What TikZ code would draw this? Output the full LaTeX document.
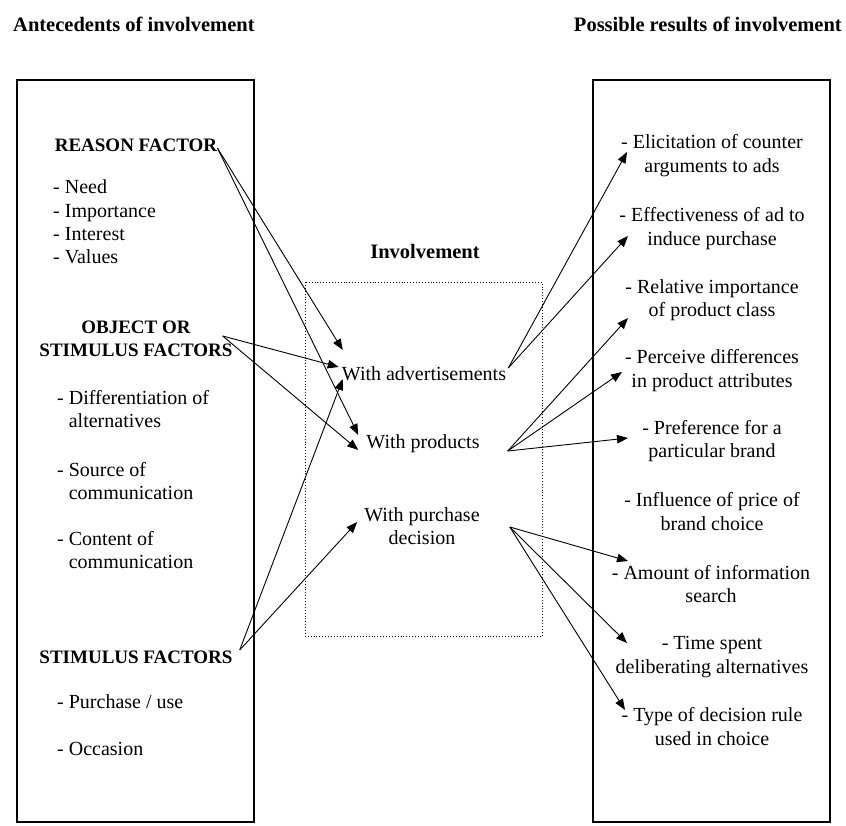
\documentclass[tikz,border=0pt]{standalone}
\usepackage{fontspec}
\setmainfont{Liberation Serif}
\usetikzlibrary{arrows.meta}
\begin{document}
\begin{tikzpicture}[x=1pt,y=-1pt,
  txt/.style={inner sep=0pt, font=\fontsize{20}{23.3}\selectfont},
  title/.style={inner sep=0pt, font=\fontsize{20.5}{24}\selectfont\bfseries},
  head/.style={inner sep=0pt, font=\fontsize{19}{23}\selectfont\bfseries, align=center},
  item/.style={txt, align=left, anchor=west},
  res/.style={txt, align=center},
  frame/.style={line width=1.6pt},
  arr/.style={line width=0.9pt, -{Triangle[length=11pt,width=8.5pt]}},
]
\useasboundingbox (0,0) rectangle (846,825);

% column titles
\node[title, anchor=west] (tleft) at (13,24) {Antecedents of involvement};
\node[title, anchor=east] (tright) at (842,24) {Possible results of involvement};
\node[title] (inv) at (425,251) {Involvement};

% frames
\draw[frame] (17,80) rectangle (254,822);
\draw[frame] (593,80) rectangle (830,822);
\draw[line width=0.9pt, dotted] (305,282) rectangle (542,636);

% antecedents
\node[head] (reason) at (136,145) {REASON FACTOR};
\node[item] (needs) at (53,222) {- Need\\- Importance\\- Interest\\- Values};
\node[head] (object) at (136,339) {OBJECT OR\\STIMULUS FACTORS};
\node[item] (diff) at (57,409) {- Differentiation of\\\hphantom{- }alternatives};
\node[item] (source) at (57,481) {- Source of\\\hphantom{- }communication};
\node[item] (content) at (57,550) {- Content of\\\hphantom{- }communication};
\node[head] (stim) at (136,657) {STIMULUS FACTORS};
\node[item] (use) at (57,702) {- Purchase / use};
\node[item] (occ) at (57,749) {- Occasion};

% involvement
\node[txt] (adv) at (424,374) {With advertisements};
\node[txt] (prod) at (423,444) {With products};
\node[res] (dec) at (422,526) {With purchase\\decision};

% results
\node[res] (r1) at (712,155.5) {- Elicitation of counter\\arguments to ads};
\node[res] (r2) at (712,228.5) {- Effectiveness of ad to\\induce purchase};
\node[res] (r3) at (712,300) {- Relative importance\\of product class};
\node[res] (r4) at (712,370.5) {- Perceive differences\\in product attributes};
\node[res] (r5) at (712,441) {- Preference for a\\particular brand};
\node[res] (r6) at (712,511.5) {- Influence of price of\\brand choice};
\node[res] (r7) at (711,584) {- Amount of information\\search};
\node[res] (r8) at (712,657) {- Time spent\\deliberating alternatives};
\node[res] (r9) at (712,726.5) {- Type of decision rule\\used in choice};

% antecedents -> involvement
\draw[arr] ([shift={(0,3)}]reason.east) -- ([shift={(1,-24)}]adv.west);
\draw[arr] ([shift={(0,3)}]reason.east) -- ([shift={(-8,-9)}]prod.west);
\draw[arr] ([shift={(-10,-3)}]object.east) -- ([shift={(-3,-7)}]adv.west);
\draw[arr] ([shift={(-10,-3)}]object.east) -- ([shift={(-8,6)}]prod.west);
\draw[arr] ([shift={(7,-7)}]stim.east) -- ([shift={(1,5)}]adv.west);
\draw[arr] ([shift={(7,-7)}]stim.east) -- ([shift={(-7,-4)}]dec.west);

% involvement -> results
\draw[arr] ([shift={(2,-6)}]adv.east) -- ([shift={(-85,-3.5)}]r1.center);
\draw[arr] ([shift={(2,-6)}]adv.east) -- ([shift={(-84,7.5)}]r2.center);
\draw[arr] ([shift={(28,7)}]prod.east) -- ([shift={(-84,18)}]r3.center);
\draw[arr] ([shift={(28,7)}]prod.east) -- ([shift={(-90,1.5)}]r4.center);
\draw[arr] ([shift={(28,7)}]prod.east) -- ([shift={(-84,-3)}]r5.center);
\draw[arr] ([shift={(30,1)}]dec.east) -- ([shift={(-83,-23)}]r7.center);
\draw[arr] ([shift={(30,1)}]dec.east) -- ([shift={(-85,-14)}]r8.center);
\draw[arr] ([shift={(30,1)}]dec.east) -- ([shift={(-87,-16.5)}]r9.center);
\end{tikzpicture}
\end{document}
